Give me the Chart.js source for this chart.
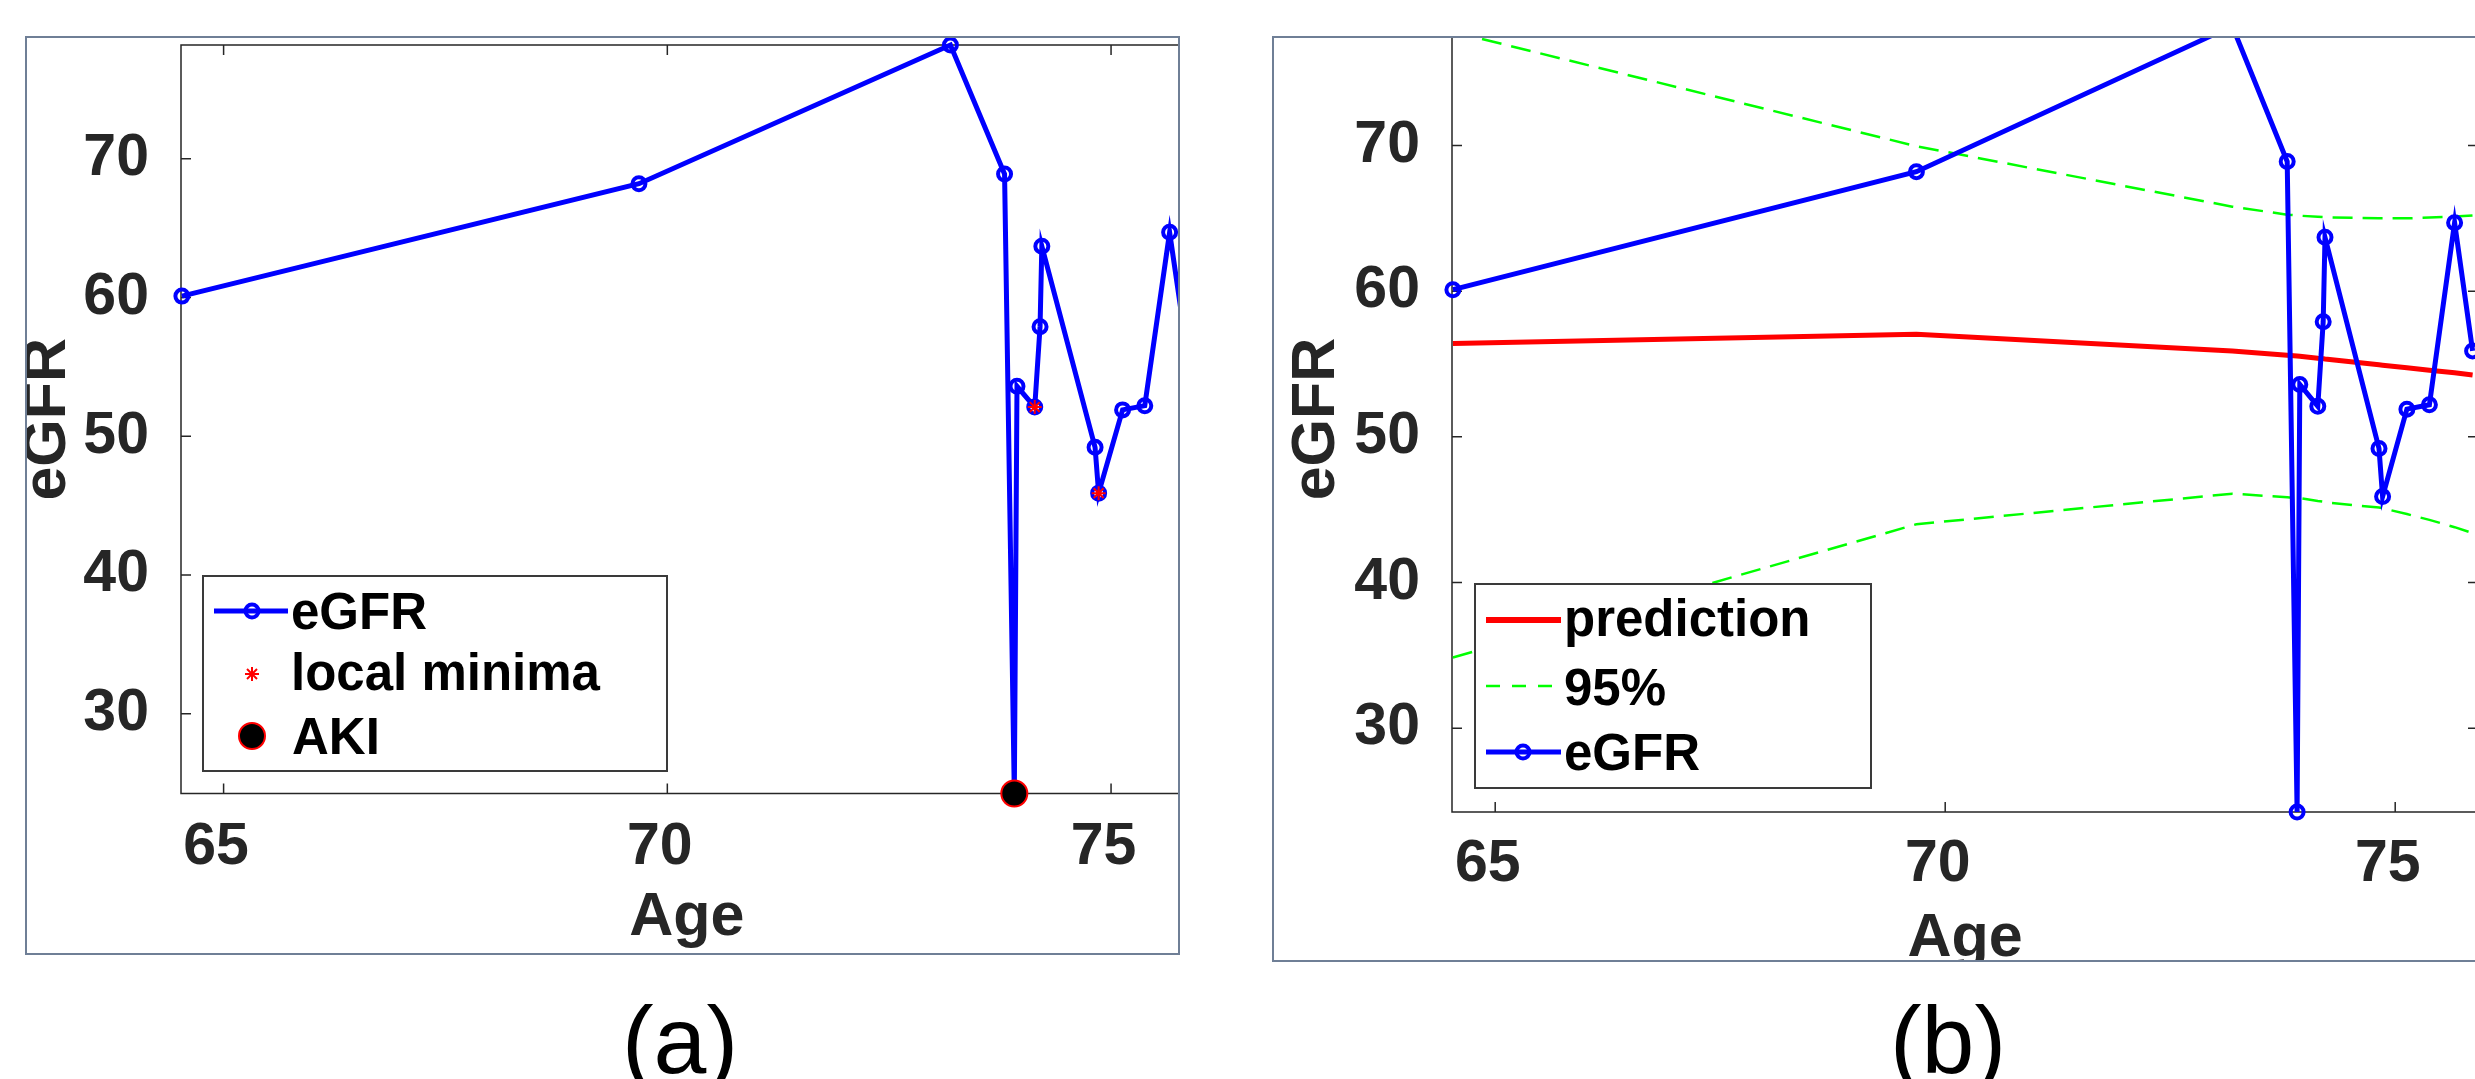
<!DOCTYPE html>
<html>
<head>
<meta charset="utf-8">
<title>eGFR vs Age</title>
<script src="https://cdn.jsdelivr.net/npm/chart.js@4.4.1/dist/chart.umd.min.js"></script>
<style>
  html, body { margin: 0; padding: 0; background: #fff; }
  body {
    width: 2475px; height: 1079px; overflow: hidden; position: relative;
    font-family: "Liberation Sans", Arial, Helvetica, sans-serif;
  }
  .frame { position: absolute; border: 2px solid #6f7f96; overflow: hidden; background: #fff; }
  #frameA { left: 25px; top: 36px; width: 1151px; height: 915px; }
  #frameB { left: 1272px; top: 36px; width: 1300px; height: 922px; border-right: none; }
  .frame canvas { position: absolute; left: 0; }
  #chartA { top: 0; }
  #chartB { top: -38px; }

  .legend { position: absolute; background: #fff; border: 2px solid #3a3a3a; box-sizing: border-box; }
  .legend svg { position: absolute; left: 0; top: 0; }
  .legend span {
    position: absolute; font-weight: bold; font-size: 51px; line-height: 51px;
    color: #000; white-space: nowrap;
  }
  #legendA { left: 202px; top: 575px; width: 466px; height: 197px; }
  #legendB { left: 1474px; top: 583px; width: 398px; height: 206px; }

  .caption {
    position: absolute; top: 993px; font-size: 95px; line-height: 95px;
    color: #000; transform: translateX(-50%); white-space: nowrap;
  }
</style>
</head>
<body>

<div class="frame" id="frameA"><canvas id="chartA" width="1234" height="915"></canvas></div>
<div class="frame" id="frameB"><canvas id="chartB" width="1286" height="961"></canvas></div>

<!-- legend (a) -->
<div class="legend" id="legendA">
  <svg width="462" height="193">
    <line x1="10" y1="34" x2="84" y2="34" stroke="#0000ff" stroke-width="5"/>
    <circle cx="48" cy="34" r="6.5" fill="none" stroke="#0000ff" stroke-width="4"/>
    <g stroke="#ff0000" stroke-width="2">
      <line x1="41" y1="97" x2="55" y2="97"/>
      <line x1="48" y1="90" x2="48" y2="104"/>
      <line x1="43" y1="92" x2="53" y2="102"/>
      <line x1="43" y1="102" x2="53" y2="92"/>
    </g>
    <circle cx="48" cy="159" r="13" fill="#000" stroke="#ff0000" stroke-width="2"/>
  </svg>
  <span style="left:87px; top:9px;">eGFR</span>
  <span style="left:87px; top:70px;">local minima</span>
  <span style="left:88px; top:134px;">AKI</span>
</div>

<!-- legend (b) -->
<div class="legend" id="legendB">
  <svg width="394" height="202">
    <line x1="10" y1="35" x2="85" y2="35" stroke="#ff0000" stroke-width="6"/>
    <line x1="10" y1="101" x2="84" y2="101" stroke="#00ff00" stroke-width="2.5" stroke-dasharray="14 12"/>
    <line x1="10" y1="167" x2="85" y2="167" stroke="#0000ff" stroke-width="5"/>
    <circle cx="47" cy="167" r="6.5" fill="none" stroke="#0000ff" stroke-width="4"/>
  </svg>
  <span style="left:88px; top:8px;">prediction</span>
  <span style="left:88px; top:77px;">95%</span>
  <span style="left:88px; top:142px;">eGFR</span>
</div>

<div class="caption" style="left:680px;">(a)</div>
<div class="caption" style="left:1948px;">(b)</div>

<script>
// ===============================
// Data
// ===============================
const ages = [64.53, 69.68, 73.19, 73.80, 73.91, 73.94, 74.14, 74.20, 74.22, 74.82, 74.86, 75.13, 75.38, 75.66, 75.86];
const egfr = [60.1, 68.2, 78.2, 68.9, 24.25, 53.6, 52.1, 57.9, 63.7, 49.2, 45.9, 51.9, 52.2, 64.7, 55.9];

const prediction = [56.4, 57.05, 55.9, 55.6, 55.55, 55.53, 55.4, 55.37, 55.35, 54.95, 54.92, 54.75, 54.57, 54.4, 54.25];
const upper95 = [77.8, 69.95, 65.8, 65.25, 65.2, 65.18, 65.1, 65.08, 65.07, 65.0, 65.0, 65.0, 65.05, 65.12, 65.2];
const lower95 = [34.85, 44.0, 46.1, 45.85, 45.8, 45.8, 45.6, 45.55, 45.5, 45.15, 45.1, 44.7, 44.3, 43.8, 43.4];

const minimaAges = [74.14, 74.86];
const minimaValues = [52.1, 45.9];
const akiAges = [73.91];
const akiValues = [24.25];

const xTicks = [65, 70, 75];
const yTicks = [30, 40, 50, 60, 70];
const xRange = [64.52, 75.92];
const yRange = [24.25, 78.2];

// ===============================
// Styles
// ===============================
const axisColor = '#262626';
const fontFamily = '"Liberation Sans", Arial, Helvetica, sans-serif';
const tickFont = { family: fontFamily, size: 59, weight: 'bold' };
const titleFont = { family: fontFamily, size: 61, weight: 'bold' };

const pts = (xs, ys) => xs.map((x, i) => ({ x: x, y: ys[i] }));

// box around the plot + inward tick marks (MATLAB style)
const boxTicks = {
  id: 'boxTicks',
  beforeDatasetsDraw(chart) {
    const { ctx, chartArea: a, scales: { x, y } } = chart;
    ctx.save();
    ctx.strokeStyle = axisColor;
    ctx.lineWidth = 1.5;
    ctx.beginPath();
    ctx.rect(a.left, a.top, a.right - a.left, a.bottom - a.top);
    x.ticks.forEach(t => {
      const px = x.getPixelForValue(t.value);
      ctx.moveTo(px, a.bottom); ctx.lineTo(px, a.bottom - 10);
      ctx.moveTo(px, a.top); ctx.lineTo(px, a.top + 10);
    });
    y.ticks.forEach(t => {
      const py = y.getPixelForValue(t.value);
      ctx.moveTo(a.left, py); ctx.lineTo(a.left + 10, py);
      ctx.moveTo(a.right, py); ctx.lineTo(a.right - 10, py);
    });
    ctx.stroke();
    ctx.restore();
  }
};

const egfrStyle = {
  borderColor: '#0000ff',
  borderWidth: 5,
  pointRadius: 6.5,
  pointBorderWidth: 4,
  pointBackgroundColor: 'rgba(0,0,0,0)',
  pointBorderColor: '#0000ff',
  tension: 0,
  clip: false
};

function makeChart(id, datasets, g) {
  return new Chart(document.getElementById(id), {
    type: 'line',
    data: { datasets: datasets },
    options: {
      responsive: false,
      animation: false,
      devicePixelRatio: 1,
      layout: { autoPadding: false, padding: { left: 0, top: g.top, right: g.right, bottom: 0 } },
      plugins: { legend: { display: false }, tooltip: { enabled: false } },
      scales: {
        x: {
          type: 'linear',
          min: xRange[0],
          max: xRange[1],
          afterFit: s => { s.height = g.xHeight; s.paddingLeft = 0; s.paddingRight = 0; },
          afterBuildTicks: s => { s.ticks = xTicks.map(v => ({ value: v })); },
          grid: { display: false, drawTicks: false },
          border: { display: false },
          ticks: { padding: g.xTickPad, labelOffset: -7.5, color: axisColor, font: tickFont, maxRotation: 0, autoSkip: false },
          title: { display: true, text: 'Age', color: axisColor, font: titleFont, padding: { top: 0, bottom: g.xTitlePad } }
        },
        y: {
          type: 'linear',
          min: yRange[0],
          max: yRange[1],
          afterFit: s => { s.width = g.yWidth; s.paddingTop = 0; s.paddingBottom = 0; },
          afterBuildTicks: s => { s.ticks = yTicks.map(v => ({ value: v })); },
          grid: { display: false, drawTicks: false },
          border: { display: false },
          ticks: { padding: 32, color: axisColor, font: tickFont, autoSkip: false },
          title: { display: true, text: 'eGFR', color: axisColor, font: titleFont, padding: { top: g.yTitlePad, bottom: 0 } }
        }
      }
    },
    plugins: [boxTicks]
  });
}

// ===============================
// (a) eGFR, local minima, AKI
// ===============================
makeChart('chartA', [
  {
    label: 'AKI',
    data: pts(akiAges, akiValues),
    showLine: false,
    pointRadius: 13,
    pointBorderWidth: 2,
    pointBackgroundColor: '#000000',
    pointBorderColor: '#ff0000',
    clip: false
  },
  {
    label: 'local minima',
    data: pts(minimaAges, minimaValues),
    showLine: false,
    pointStyle: 'star',
    pointRadius: 7,
    pointBorderWidth: 2,
    pointBorderColor: '#ff0000',
    clip: false
  },
  Object.assign({ label: 'eGFR', data: pts(ages, egfr) }, egfrStyle)
], { top: 7, right: 68.3, xHeight: 159.5, yWidth: 154, xTickPad: 19, xTitlePad: -2, yTitlePad: -15 });

// ===============================
// (b) prediction with 95% band
// ===============================
makeChart('chartB', [
  Object.assign({ label: 'eGFR', data: pts(ages, egfr) }, egfrStyle),
  {
    label: '95%',
    data: pts(ages, upper95),
    borderColor: '#00ff00',
    borderWidth: 2.5,
    borderDash: [20, 10],
    pointRadius: 0
  },
  {
    label: '95% lower',
    data: pts(ages, lower95),
    borderColor: '#00ff00',
    borderWidth: 2.5,
    borderDash: [20, 10],
    pointRadius: 0
  },
  {
    label: 'prediction',
    data: pts(ages, prediction),
    borderColor: '#ff0000',
    borderWidth: 5,
    pointRadius: 0
  }
], { top: 26, right: 82, xHeight: 149, yWidth: 178, xTickPad: 17, xTitlePad: -15, yTitlePad: 7 });
</script>

</body>
</html>
